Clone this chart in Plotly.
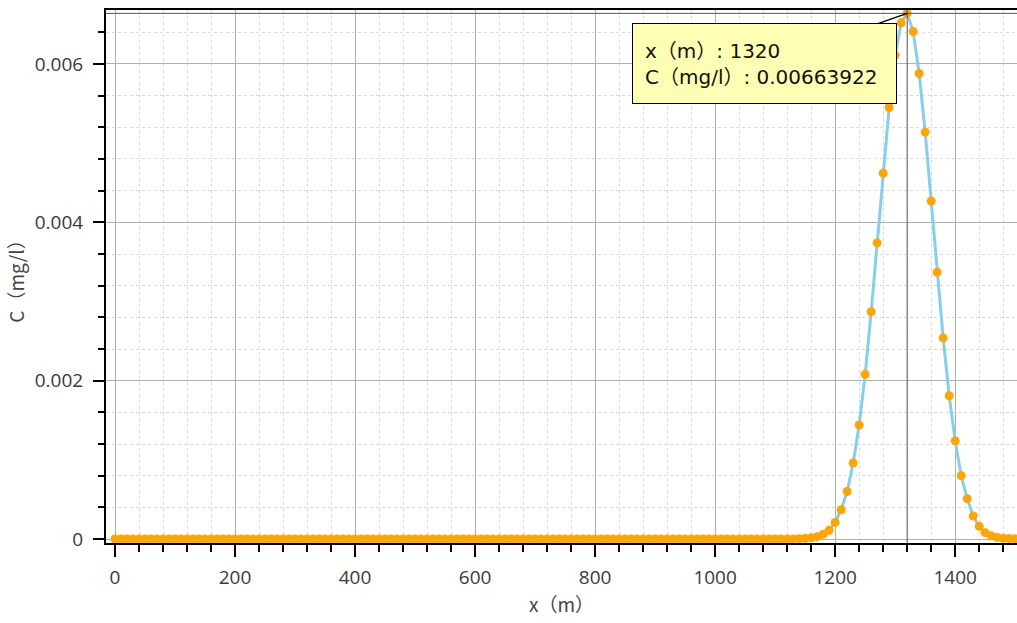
import plotly.graph_objects as go

# Sample positions (m)
x_m = [
    0, 10, 20, 30, 40, 50, 60, 70, 80, 90, 100, 110, 120, 130, 140, 150, 160, 170, 180, 190,
    200, 210, 220, 230, 240, 250, 260, 270, 280, 290, 300, 310, 320, 330, 340, 350, 360, 370, 380, 390,
    400, 410, 420, 430, 440, 450, 460, 470, 480, 490, 500, 510, 520, 530, 540, 550, 560, 570, 580, 590,
    600, 610, 620, 630, 640, 650, 660, 670, 680, 690, 700, 710, 720, 730, 740, 750, 760, 770, 780, 790,
    800, 810, 820, 830, 840, 850, 860, 870, 880, 890, 900, 910, 920, 930, 940, 950, 960, 970, 980, 990,
    1000, 1010, 1020, 1030, 1040, 1050, 1060, 1070, 1080, 1090, 1100, 1110, 1120, 1130, 1140, 1150,
    1160, 1170, 1180, 1190, 1200, 1210, 1220, 1230, 1240, 1250, 1260, 1270, 1280, 1290, 1300, 1310,
    1320, 1330, 1340, 1350, 1360, 1370, 1380, 1390, 1400, 1410, 1420, 1430, 1440, 1450, 1460, 1470,
    1480, 1490, 1500,
]

# Concentration (mg/l)
c_mgl = [
    0, 0, 0, 0, 0, 0, 0, 0, 0, 0, 0, 0, 0, 0, 0, 0, 0, 0, 0, 0,
    0, 0, 0, 0, 0, 0, 0, 0, 0, 0, 0, 0, 0, 0, 0, 0, 0, 0, 0, 0,
    0, 0, 0, 0, 0, 0, 0, 0, 0, 0, 0, 0, 0, 0, 0, 0, 0, 0, 0, 0,
    0, 0, 0, 0, 0, 0, 0, 0, 0, 0, 0, 0, 0, 0, 0, 0, 0, 0, 0, 0,
    0, 0, 0, 0, 0, 0, 0, 0, 0, 0, 0, 0, 0, 0, 0, 0, 0, 0, 0, 0,
    0, 0, 0, 0, 0, 0, 0, 0, 0, 0, 0, 0, 0, 0, 0.000004, 0.000008,
    0.000015, 0.00003, 0.00006, 0.00011, 0.00021, 0.00037, 0.00060, 0.00096, 0.00144, 0.00208,
    0.00287, 0.00374, 0.00462, 0.00545, 0.00611, 0.00652,
    0.00663922, 0.00641, 0.00588, 0.00514, 0.00427, 0.00337, 0.00254, 0.00181, 0.00124, 0.00080,
    0.00051, 0.00029, 0.00016, 0.00008, 0.00004, 0.00002,
    0.00001, 0.000005, 0.000002,
]

x_title = "x（m）"
y_title = "C（mg/l）"

peak_i = max(range(len(c_mgl)), key=lambda i: c_mgl[i])
peak_x = x_m[peak_i]
peak_c = c_mgl[peak_i]

CJK = "Noto Sans CJK SC"
NUM = "Open Sans"
TIP = "DejaVu Sans, Noto Sans CJK SC"

fig = go.Figure()
fig.add_trace(go.Scatter(
    x=x_m, y=c_mgl, mode="lines+markers",
    line=dict(color="#87CEEB", width=3),
    marker=dict(color="#FFA500", size=9, line=dict(width=0)),
    hoverinfo="skip", showlegend=False,
))

# crosshair
fig.add_shape(type="line", xref="x", yref="paper", x0=peak_x, x1=peak_x, y0=0, y1=1,
              line=dict(color="#555555", width=1))
fig.add_shape(type="line", xref="paper", yref="y", x0=0, x1=1, y0=peak_c, y1=peak_c,
              line=dict(color="#555555", width=1))

fig.add_annotation(
    x=peak_x, y=peak_c, xref="x", yref="y",
    text=f"x（m）: {peak_x}<br>C（mg/l）: {peak_c}",
    showarrow=True, arrowhead=0, arrowwidth=1.5, arrowcolor="#000000",
    ax=-143, ay=50, standoff=0,
    xanchor="center", yanchor="middle", align="left",
    bgcolor="#FFFFB4", bordercolor="#000000", borderwidth=1, borderpad=12,
    width=239, height=55,
    font=dict(family=TIP, size=20, color="#111111"),
)

fig.update_layout(
    width=1017, height=623,
    margin=dict(l=106, r=0, t=10, b=80),
    paper_bgcolor="white", plot_bgcolor="white",
    font=dict(family=NUM, size=19, color="#333333"),
    xaxis=dict(
        range=[-15, 1503], tick0=0, dtick=200,
        showline=True, linecolor="#000000", linewidth=2, mirror=True,
        ticks="outside", ticklen=12, tickwidth=2, tickcolor="#000000",
        showgrid=True, gridcolor="#B0B0B0", gridwidth=1, zeroline=False,
        minor=dict(dtick=40, ticks="outside", ticklen=7, tickwidth=2, tickcolor="#000000",
                   showgrid=True, gridcolor="#DADADA", griddash="dot", gridwidth=1),
        title=dict(text=x_title, font=dict(family=CJK, size=19, color="#444444"), standoff=8),
        tickfont=dict(family=NUM, size=19, color="#3a3a3a"),
        ticklabelstandoff=4,
    ),
    yaxis=dict(
        range=[-0.0000505, 0.006682], tick0=0, dtick=0.002,
        showline=True, linecolor="#000000", linewidth=2,
        ticks="outside", ticklen=11, tickwidth=2, tickcolor="#000000",
        showgrid=True, gridcolor="#B0B0B0", gridwidth=1, zeroline=False,
        minor=dict(dtick=0.0004, ticks="outside", ticklen=6, tickwidth=2, tickcolor="#000000",
                   showgrid=True, gridcolor="#DADADA", griddash="dot", gridwidth=1),
        title=dict(text=y_title, font=dict(family=CJK, size=19, color="#444444"), standoff=5),
        tickfont=dict(family=NUM, size=19, color="#3a3a3a"),
        ticklabelstandoff=6,
    ),
)

fig.write_html("out.html")
